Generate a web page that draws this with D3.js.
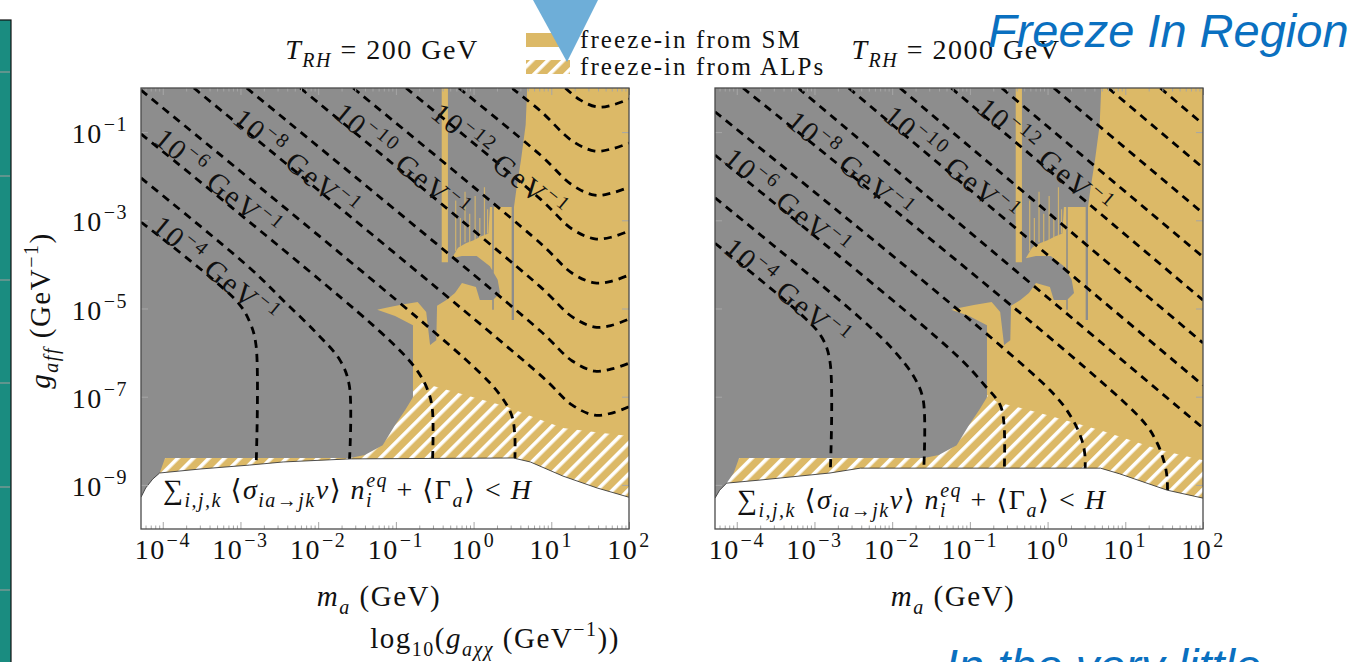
<!DOCTYPE html>
<html>
<head>
<meta charset="utf-8">
<script src="https://cdn.jsdelivr.net/npm/d3@7"></script>
<style>
  body { margin: 0; background: #fff; }
  svg text { font-family: "Liberation Serif", "DejaVu Serif", serif; letter-spacing: 1.5px; }
</style>
</head>
<body>
<svg width="1352" height="662"></svg>
<script>
// tick positions, as powers of ten
var xTickExp = [-4, -3, -2, -1, 0, 1, 2];
var yTickExp = [-1, -3, -5, -7, -9];
var reheatTemps = ["200", "2000"];
var legendLabels = ["freeze-in from SM", "freeze-in from ALPs"];

// all points below are [log10(m_a / GeV), log10(g_aff GeV)]
// grey (thermalised) region, same in both panels
var thermalRegion = [
  [-4.28, 0], [-0.41, 0], [-0.41, -3.95], [-0.33, -3.95], [-0.33, 0],
  [0.69, 0], [0.67, -0.84], [0.61, -1.63], [0.55, -2.31], [0.52, -2.70],
  [0.52, -5.26], [0.49, -5.26], [0.49, -2.70],
  [0.26, -2.70], [0.26, -5.03], [0.24, -5.03], [0.24, -2.70],
  [0.21, -2.70], [0.19, -3.30], [0.10, -3.36], [0.0, -3.45], [-0.10, -3.52],
  [-0.20, -3.62], [-0.28, -3.86],
  [-0.15, -3.81], [0.04, -3.81], [0.21, -4.04], [0.31, -4.35], [0.34, -4.65],
  [0.25, -4.81], [0.08, -4.81], [0.03, -4.51], [-0.15, -4.42], [-0.24, -4.65],
  [-0.35, -4.81], [-0.47, -4.94], [-0.48, -5.72], [-0.56, -5.83], [-0.61, -5.08],
  [-0.72, -4.85], [-0.95, -4.92], [-1.14, -4.99], [-1.24, -5.03], [-1.01, -5.17],
  [-0.78, -5.38], [-0.78, -7.01], [-0.88, -7.30], [-1.01, -7.64], [-1.17, -8.10],
  [-1.40, -8.32], [-1.59, -8.39], [-3.97, -8.39], [-4.04, -8.73], [-4.28, -9.34]
];
// thin yellow streaks inside the grey: [log10 m, top, bottom]
var alpStreaks = [[-0.23, -2.55, -3.7], [-0.17, -2.95, -3.6], [-0.11, -2.35, -3.5], [-0.05, -2.85, -3.5],
  [0.02, -2.45, -3.45], [0.08, -2.95, -3.4], [0.14, -2.25, -3.35], [0.18, -2.75, -3.3]];

// upper edge of the "freeze-in from ALPs" (hatched) band
var alpTop200 = [[-4.28, -6.85], [-0.78, -6.85], [-0.69, -6.67], [-0.05, -6.99], [0.43, -7.23],
  [0.79, -7.48], [1.15, -7.71], [1.63, -7.82], [2.0, -7.89]];
var alpTop2000 = [[-4.28, -6.96], [-0.78, -6.96], [-0.65, -7.12], [-0.10, -7.37], [0.68, -7.76],
  [1.45, -8.21], [2.0, -8.44]];

// rate < H boundary (white region below)
var eqEdge200 = [[-4.28, -9.28], [-4.22, -9.07], [-4.13, -8.87], [-4.04, -8.73], [-3.52, -8.64],
  [-2.88, -8.55], [-2.45, -8.48], [-1.59, -8.41], [0.51, -8.39], [0.73, -8.48], [1.15, -8.80],
  [1.59, -9.07], [2.0, -9.28]];
var eqEdge2000 = [[-4.28, -9.30], [-4.22, -9.12], [-4.13, -8.96], [-3.70, -8.89], [-2.80, -8.73],
  [-2.41, -8.62], [0.68, -8.62], [0.93, -8.75], [1.54, -9.12], [2.0, -9.30]];

// relic-abundance contours, g = log10(g_axx GeV)
var contours200 = [
  { g: -4, pts: [[-4.28, -3.04], [-3.04, -4.85], [-2.88, -5.31], [-2.80, -5.83], [-2.80, -8.66]] },
  { g: -5, pts: [[-4.28, -2.04], [-2.88, -4.08], [-2.43, -4.85], [-2.02, -5.56], [-1.72, -6.17], [-1.60, -6.74], [-1.60, -8.55]] },
  { g: -6, pts: [[-4.28, -1.04], [-1.20, -5.53], [-0.75, -6.35], [-0.59, -6.85], [-0.53, -7.30], [-0.53, -8.55]] },
  { g: -7, pts: [[-4.28, -0.05], [-0.05, -6.24], [0.34, -6.96], [0.49, -7.42], [0.53, -7.87], [0.53, -8.55]] },
  { g: -8, pts: [[-3.60, 0], [0.86, -6.51], [1.27, -7.19], [1.56, -7.42], [1.78, -7.37], [2.0, -7.23]] },
  { g: -9, pts: [[-2.92, 0], [0.86, -5.51], [1.27, -6.19], [1.56, -6.42], [1.78, -6.37], [2.0, -6.24]] },
  { g: -10, pts: [[-2.23, 0], [0.86, -4.51], [1.27, -5.19], [1.56, -5.42], [1.78, -5.38], [2.0, -5.24]] },
  { g: -11, pts: [[-1.55, 0], [0.86, -3.52], [1.27, -4.20], [1.56, -4.42], [1.78, -4.38], [2.0, -4.24]] },
  { g: -12, pts: [[-0.87, 0], [0.86, -2.52], [1.27, -3.20], [1.56, -3.42], [1.78, -3.38], [2.0, -3.24]] },
  { g: -13, pts: [[-0.19, 0], [0.86, -1.52], [1.27, -2.20], [1.56, -2.43], [1.78, -2.38], [2.0, -2.25]] },
  { g: -14, pts: [[0.49, 0], [0.86, -0.52], [1.27, -1.20], [1.56, -1.43], [1.78, -1.38], [2.0, -1.25]] },
  { g: -15, pts: [[1.18, 0], [1.37, -0.27], [1.59, -0.43], [1.78, -0.39], [2.0, -0.25]] }
];
var contours2000 = [
  { g: -4, pts: [[-4.28, -3.52], [-3.12, -5.22], [-2.90, -5.67], [-2.80, -6.21], [-2.80, -8.89]] },
  { g: -5, pts: [[-4.28, -2.49], [-2.41, -5.22], [-1.96, -5.99], [-1.71, -6.58], [-1.60, -7.08], [-1.60, -8.89]] },
  { g: -6, pts: [[-4.28, -1.52], [-1.19, -6.03], [-0.81, -6.74], [-0.61, -7.19], [-0.56, -7.64], [-0.56, -8.89]] },
  { g: -7, pts: [[-4.28, -0.54], [0.03, -6.85], [0.31, -7.48], [0.44, -7.98], [0.48, -8.32], [0.48, -8.89]] },
  { g: -8, pts: [[-3.92, 0], [1.19, -7.48], [1.41, -8.05], [1.51, -8.55], [1.54, -8.89], [1.54, -9.34]] },
  { g: -9, pts: [[-3.21, 0], [2.0, -7.71]] },
  { g: -10, pts: [[-2.56, 0], [2.0, -6.74]] },
  { g: -11, pts: [[-1.90, 0], [2.0, -5.78]] },
  { g: -12, pts: [[-1.24, 0], [2.0, -4.81]] },
  { g: -13, pts: [[-0.59, 0], [2.0, -3.83]] },
  { g: -14, pts: [[0.08, 0], [2.0, -2.84]] },
  { g: -15, pts: [[0.78, 0], [2.0, -1.81]] },
  { g: -16, pts: [[1.45, 0], [2.0, -0.82]] }
];

// where the contour labels start
var labels200 = [[-4, [-4.16, -3.20]], [-6, [-4.13, -1.22]], [-8, [-3.12, -0.77]], [-10, [-1.82, -0.64]], [-12, [-0.57, -0.64]]];
var labels2000 = [[-4, [-4.19, -3.70]], [-6, [-4.19, -1.66]], [-8, [-3.38, -0.82]], [-10, [-2.13, -0.70]], [-12, [-0.93, -0.52]]];

var YELLOW = "#dcb967", GREY = "#8d8d8d", BLUE = "#0a70c0";
var FS = 28;
var svg = d3.select("svg");
var W = 488, H = 441, TOP = 88;

var x = d3.scaleLog().domain([Math.pow(10, -4.28), 100]).range([0, W]);
var y = d3.scaleLog().domain([1e-10, 1]).range([H, 0]);
function px(p) { return x(Math.pow(10, p[0])); }
function py(p) { return y(Math.pow(10, p[1])); }
var line = d3.line().x(px).y(py);
var smooth = d3.line().x(px).y(py).curve(d3.curveCatmullRom.alpha(0.5));

// text with sub/superscripts: parts are [text, style, dx]
function rich(sel, parts, size) {
  var shift = 0;
  parts.forEach(function (p) {
    var s = p[1] || "", target = 0;
    if (s.indexOf("sub") >= 0) target = Math.round(size * 0.27);
    if (s.indexOf("sup") >= 0) target = -Math.round(size * 0.42);
    var ts = sel.append("tspan").text(p[0]).attr("dy", target - shift);
    if (target !== 0) ts.attr("font-size", Math.round(size * 0.7));
    if (s.indexOf("i") === 0) ts.attr("font-style", "italic");
    if (p[2]) ts.attr("dx", p[2]);
    shift = target;
  });
  return sel;
}
function expText(e) { return e < 0 ? "\u2212" + (-e) : String(e); }

var defs = svg.append("defs");
var pat = defs.append("pattern").attr("id", "hatch").attr("patternUnits", "userSpaceOnUse")
  .attr("width", 11).attr("height", 11).attr("patternTransform", "rotate(45)");
pat.append("rect").attr("width", 11).attr("height", 11).attr("fill", YELLOW);
pat.append("rect").attr("width", 3.6).attr("height", 11).attr("fill", "#fff");

// slide furniture
svg.append("rect").attr("x", -5).attr("y", 20).attr("width", 16).attr("height", 700)
  .attr("fill", "#1a8c80").attr("stroke", "#111").attr("stroke-width", 1.2);
[72, 176, 280, 383, 487, 590].forEach(function (v) {
  svg.append("line").attr("x1", 0).attr("x2", 10).attr("y1", v).attr("y2", v)
    .attr("stroke", "#c9a3a3").attr("stroke-width", 0.8);
});

var panels = [
  { left: 141, T: reheatTemps[0], lines: contours200, labels: labels200, alp: alpTop200, edge: eqEdge200, fy: 499 },
  { left: 715, T: reheatTemps[1], lines: contours2000, labels: labels2000, alp: alpTop2000, edge: eqEdge2000, fy: 509 }
];

var bottomCorners = [[2.0, -10], [-4.28, -10]];
var allTicks = x.ticks();
var majorX = allTicks.filter(function (v) { return Math.abs(Math.log10(v) - Math.round(Math.log10(v))) < 1e-9; });
var minorX = allTicks.filter(function (v) { return majorX.indexOf(v) < 0; });
var majorY = yTickExp.map(function (e) { return Math.pow(10, e); });

panels.forEach(function (P, i) {
  defs.append("clipPath").attr("id", "clip" + i).append("rect").attr("width", W).attr("height", H);
  var g = svg.append("g").attr("transform", "translate(" + P.left + "," + TOP + ")");
  var area = g.append("g").attr("clip-path", "url(#clip" + i + ")");

  area.append("rect").attr("width", W).attr("height", H).attr("fill", YELLOW);
  area.append("path").attr("d", line(P.alp.concat(bottomCorners)) + "Z").attr("fill", "url(#hatch)");
  area.append("path").attr("d", line(thermalRegion) + "Z").attr("fill", GREY);
  area.selectAll(".streak").data(alpStreaks).enter().append("line")
    .attr("class", "streak")
    .attr("x1", function (d) { return px(d); }).attr("x2", function (d) { return px(d); })
    .attr("y1", function (d) { return y(Math.pow(10, d[1])); })
    .attr("y2", function (d) { return y(Math.pow(10, d[2])); })
    .attr("stroke", YELLOW).attr("stroke-width", 1.2).attr("opacity", 0.85);

  area.selectAll(".contour").data(P.lines).enter().append("path")
    .attr("class", "contour")
    .attr("d", function (c) { return smooth(c.pts); })
    .attr("fill", "none").attr("stroke", "#000").attr("stroke-width", 2.8)
    .attr("stroke-dasharray", "8,6");

  area.append("path").attr("d", line(P.edge.concat(bottomCorners)) + "Z").attr("fill", "#fff");
  area.append("path").attr("d", line(P.edge)).attr("fill", "none").attr("stroke", "#3a3a3a").attr("stroke-width", 0.9);

  P.labels.forEach(function (L) {
    var c = P.lines.filter(function (d) { return d.g === L[0]; })[0];
    var a = c.pts[0], b = c.pts[1];
    var ang = Math.atan2(py(b) - py(a), px(b) - px(a)) * 180 / Math.PI;
    var t = area.append("text").attr("font-size", 29).attr("fill", "#111").style("letter-spacing", "2px")
      .attr("transform", "translate(" + px(L[1]) + "," + py(L[1]) + ") rotate(" + ang.toFixed(2) + ")");
    rich(t, [["10"], [expText(L[0]), "sup"], [" GeV"], ["\u22121", "sup"]], 29);
  });

  var f = g.append("text").attr("x", 22).attr("y", P.fy - TOP).attr("font-size", FS).attr("fill", "#111");
  rich(f, [["\u2211"], ["i,j,k", "isub"], [" \u27e8"], ["\u03c3", "i"], ["ia\u2192jk", "isub"], ["v", "i"],
    ["\u27e9 "], ["n", "i"], ["i", "isub"], ["eq", "isup", -7], [" + \u27e8\u0393"], ["a", "isub"],
    ["\u27e9 < "], ["H", "i"]], FS);

  // ticks (inward, pgfplots style)
  function styleTicks(sel) {
    sel.select(".domain").remove();
    sel.selectAll(".tick line").attr("stroke", "#a6a6a6").attr("stroke-width", 1);
  }
  g.append("g").attr("transform", "translate(0," + H + ")")
    .call(d3.axisBottom(x).tickValues(majorX).tickSize(-7).tickFormat("")).call(styleTicks);
  g.append("g").attr("transform", "translate(0," + H + ")")
    .call(d3.axisBottom(x).tickValues(minorX).tickSize(-3.5).tickFormat("")).call(styleTicks);
  g.append("g").call(d3.axisTop(x).tickValues(majorX).tickSize(-7).tickFormat("")).call(styleTicks);
  g.append("g").call(d3.axisTop(x).tickValues(minorX).tickSize(-3.5).tickFormat("")).call(styleTicks);
  g.append("g").call(d3.axisLeft(y).tickValues(majorY).tickSize(-7).tickFormat("")).call(styleTicks);
  g.append("g").attr("transform", "translate(" + W + ",0)")
    .call(d3.axisRight(y).tickValues(majorY).tickSize(-7).tickFormat("")).call(styleTicks);

  g.append("rect").attr("width", W).attr("height", H).attr("fill", "none")
    .attr("stroke", "#4a4a4a").attr("stroke-width", 1.3);

  // tick labels
  xTickExp.forEach(function (e) {
    var t = g.append("text").attr("x", x(Math.pow(10, e))).attr("y", H + 30)
      .attr("text-anchor", "middle").attr("font-size", FS).attr("fill", "#111");
    rich(t, [["10"], [expText(e), "sup", 1]], FS);
  });
  if (i === 0) {
    yTickExp.forEach(function (e) {
      var t = g.append("text").attr("x", -13).attr("y", y(Math.pow(10, e)) + 11)
        .attr("text-anchor", "end").attr("font-size", FS).attr("fill", "#111");
      rich(t, [["10"], [expText(e), "sup", 1]], FS);
    });
    var yl = g.append("text").attr("transform", "translate(-91," + (H / 2 + 2) + ") rotate(-90)")
      .attr("text-anchor", "middle").attr("font-size", 29).attr("fill", "#111");
    rich(yl, [["g", "i"], ["aff", "isub"], [" (GeV"], ["\u22121", "sup"], [")"]], 29);
  }
  var xl = g.append("text").attr("x", W / 2 - 6).attr("y", H + 77)
    .attr("text-anchor", "middle").attr("font-size", 29).attr("fill", "#111");
  rich(xl, [["m", "i"], ["a", "isub"], [" (GeV)"]], 29);

  var tt = svg.append("text").attr("x", P.left + W / 2 - 3).attr("y", 59)
    .attr("text-anchor", "middle").attr("font-size", FS).attr("fill", "#111");
  rich(tt, [["T", "i"], ["RH", "isub"], [" = " + P.T + " GeV"]], FS);
});

// shared label under the left panel
var lg = svg.append("text").attr("x", 495).attr("y", 648).attr("text-anchor", "middle")
  .attr("font-size", 29).attr("fill", "#111");
rich(lg, [["log"], ["10", "sub"], ["("], ["g", "i"], ["a\u03c7\u03c7", "isub"], [" (GeV"], ["\u22121", "sup"], ["))"]], 29);

// legend
var leg = svg.append("g").attr("transform", "translate(526,33)");
leg.append("rect").attr("width", 44).attr("height", 14).attr("fill", YELLOW);
leg.append("rect").attr("y", 27).attr("width", 44).attr("height", 14).attr("fill", "url(#hatch)");
legendLabels.forEach(function (s, k) {
  leg.append("text").attr("x", 54).attr("y", 15 + k * 27).attr("font-size", 25).attr("fill", "#111")
    .style("letter-spacing", "2.1px").text(s);
});

// slide overlays
svg.append("path").attr("d", "M533,0 L598,0 L567,62 Z").attr("fill", "#6eaed8");
svg.append("text").attr("x", 988).attr("y", 47).attr("font-size", 47).attr("font-style", "italic")
  .attr("fill", BLUE).style("font-family", "'Liberation Sans', Arial, sans-serif").style("letter-spacing", "0px")
  .text("Freeze In Region");
svg.append("text").attr("x", 945).attr("y", 682).attr("font-size", 47).attr("font-style", "italic")
  .attr("fill", BLUE).style("font-family", "'Liberation Sans', Arial, sans-serif").style("letter-spacing", "0px")
  .text("In the very little");
</script>
</body>
</html>
